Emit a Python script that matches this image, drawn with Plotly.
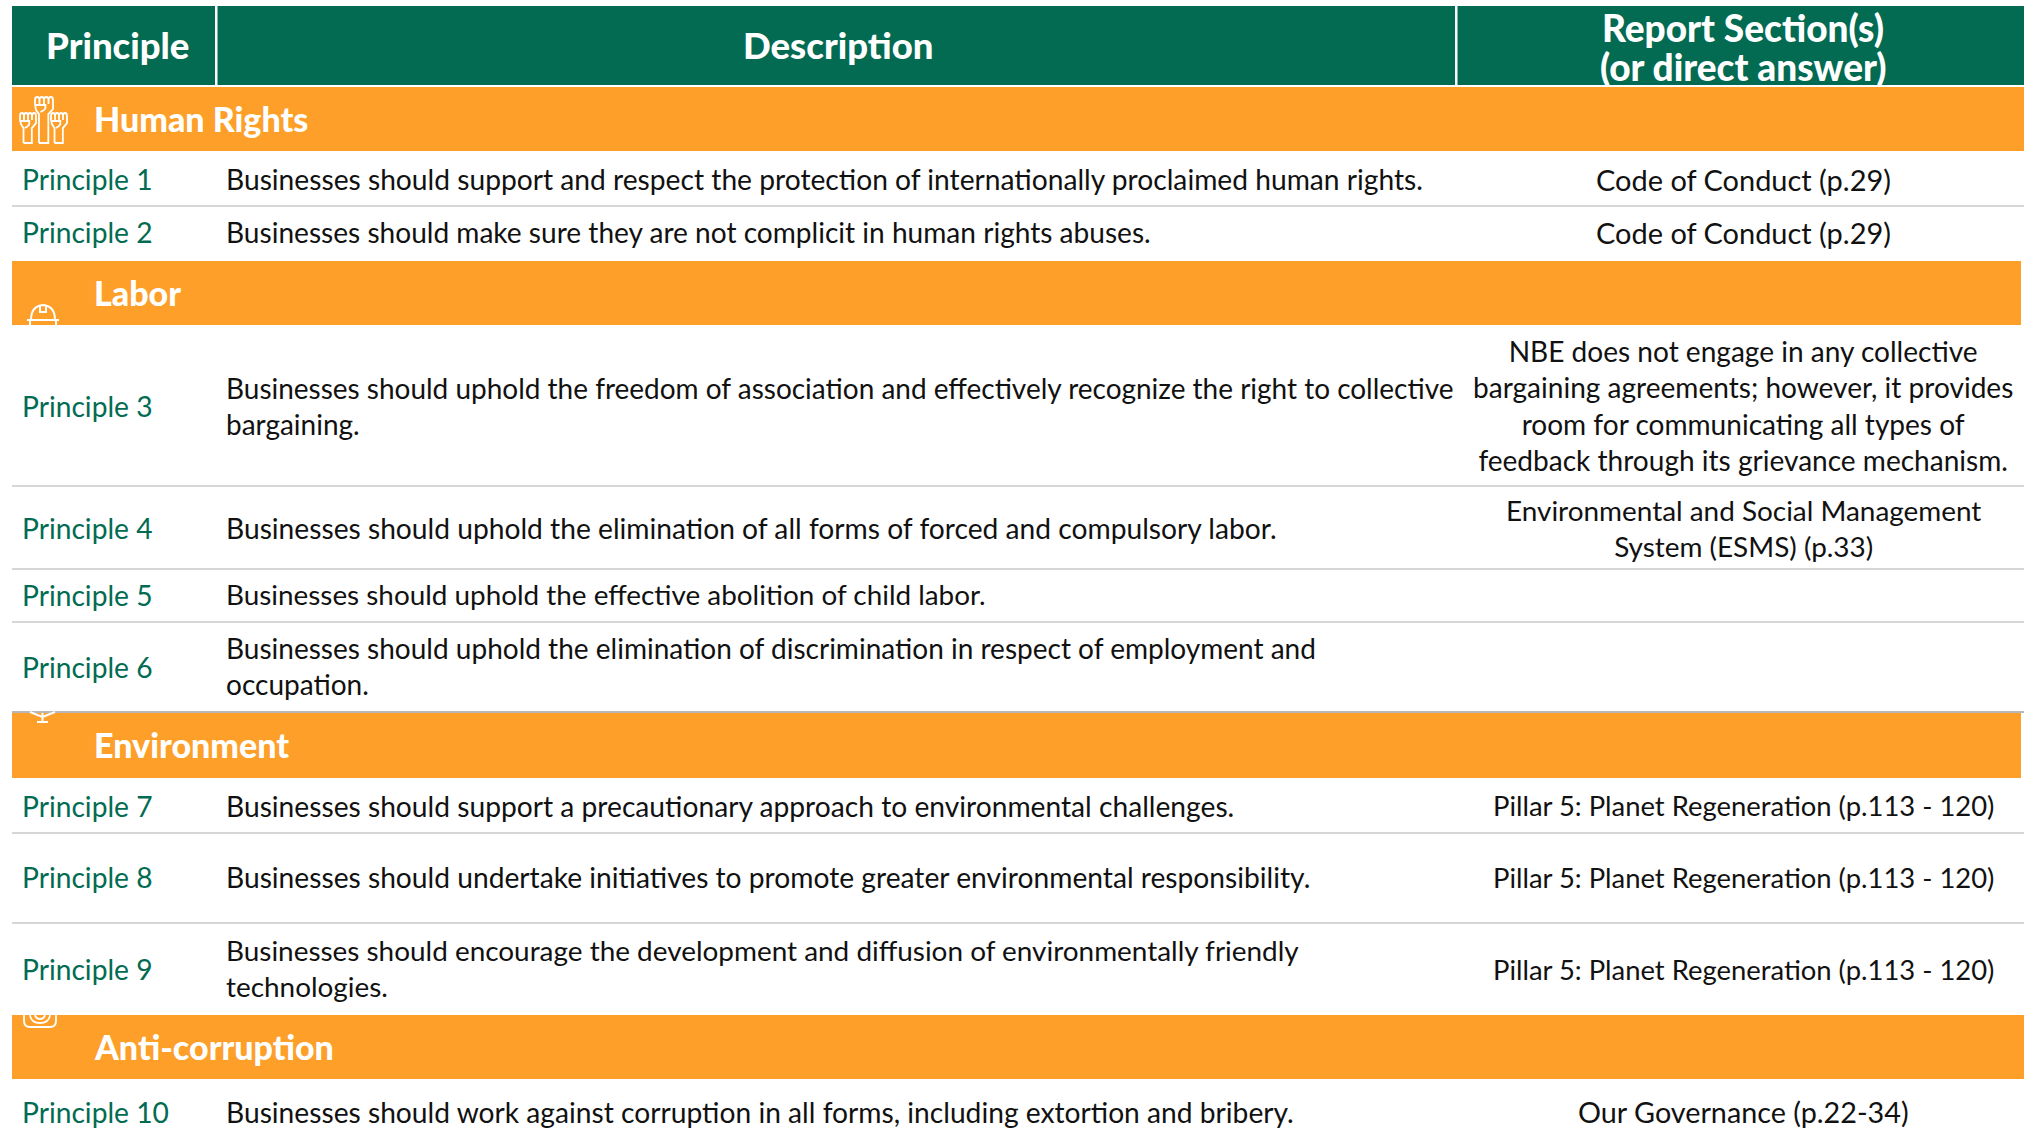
import plotly.graph_objects as go

# ---------- content ----------
header_labels = ["Principle", "Description", "Report Section(s)", "(or direct answer)"]
row_kinds = ["section", "row", "row", "section", "row", "row", "row", "row", "section", "row", "row", "row", "section", "row"]
row_first = ["Human Rights", "Principle 1", "Principle 2", "Labor", "Principle 3", "Principle 4", "Principle 5",
             "Principle 6", "Environment", "Principle 7", "Principle 8", "Principle 9", "Anti-corruption", "Principle 10"]
row_desc = [
    "",
    "Businesses should support and respect the protection of internationally proclaimed human rights.",
    "Businesses should make sure they are not complicit in human rights abuses.",
    "",
    "Businesses should uphold the freedom of association and effectively recognize the right to collective<br>bargaining.",
    "Businesses should uphold the elimination of all forms of forced and compulsory labor.",
    "Businesses should uphold the effective abolition of child labor.",
    "Businesses should uphold the elimination of discrimination in respect of employment and<br>occupation.",
    "",
    "Businesses should support a precautionary approach to environmental challenges.",
    "Businesses should undertake initiatives to promote greater environmental responsibility.",
    "Businesses should encourage the development and diffusion of environmentally friendly<br>technologies.",
    "",
    "Businesses should work against corruption in all forms, including extortion and bribery.",
]
row_report = [
    "",
    "Code of Conduct (p.29)",
    "Code of Conduct (p.29)",
    "",
    "NBE does not engage in any collective<br>bargaining agreements; however, it provides<br>room for communicating all types of<br>feedback through its grievance mechanism.",
    "Environmental and Social Management<br>System (ESMS) (p.33)",
    "",
    "",
    "",
    "Pillar 5: Planet Regeneration (p.113 - 120)",
    "Pillar 5: Planet Regeneration (p.113 - 120)",
    "Pillar 5: Planet Regeneration (p.113 - 120)",
    "",
    "Our Governance (p.22-34)",
]

# ---------- layout of the table (pixels) ----------
W, H = 2029, 1136
LEFT, RIGHT = 12, 2024
COL1, COL2 = 216, 1456
HEAD_TOP, HEAD_BOT = 6, 85
ROW_EDGES = [87, 151, 206, 261, 325, 486, 569, 622, 712, 778, 833, 923, 1015, 1079, 1136]
TEXT_SHIFT = [0, 0.5, -1.5, 0, 0, 0, -1, 0, 0, 0, -1, 0, 0, 4]
DESC_SHIFT = [0, 0, 0, 0, 0, 0, 0, -1, 0, 0, 0, -1, 0, 0]
DESC_SCALE = [1, 1, .996, 1, .992, 1, .988, .994, 1, 1, 1, .99, 1, 1]
REPORT_SCALE = [1, 1.027, 1.027, 1, .995, .99, 1, 1, 1, .972, .972, .972, 1, 1.02]
GREEN, ORANGE = "#026B52", "#FD9F28"
FONT = "Lato"
BODY = 28.2

fig = go.Figure()
fig.update_xaxes(range=[0, W], visible=False, fixedrange=True)
fig.update_yaxes(range=[H, 0], visible=False, fixedrange=True)
fig.update_layout(width=W, height=H, margin=dict(l=0, r=0, t=0, b=0), paper_bgcolor="white",
                  plot_bgcolor="white", showlegend=False)
fig.add_trace(go.Scatter(x=[0, W], y=[0, H], mode="markers", marker=dict(opacity=0), hoverinfo="skip"))


def rect(x0, y0, x1, y1, color):
    fig.add_shape(type="rect", x0=x0, y0=y0, x1=x1, y1=y1, fillcolor=color, line_width=0, layer="below")


def hline(y, color, width=1.5):
    fig.add_shape(type="line", x0=LEFT, x1=RIGHT, y0=y, y1=y, line=dict(color=color, width=width), layer="below")


def label(x, y, text, color="#111111", size=BODY, anchor="left", weight=400):
    if not text:
        return
    fig.add_annotation(x=x, y=y, xref="x", yref="y", text=text, showarrow=False,
                       xanchor=anchor, yanchor="middle", align=anchor,
                       font=dict(family=FONT, size=size, color=color, weight=weight))


def icon(path, width=1.8):
    fig.add_shape(type="path", path=path, line=dict(color="white", width=width), fillcolor="rgba(0,0,0,0)", layer="above")


def fist(x0, top, w, bottom):
    """Outline of a raised fist with its wrist."""
    h = w * 0.95
    fw = w / 4
    wl, wr = x0 + w * 0.22, x0 + w * 0.74
    p = f"M{wl},{bottom} L{wl},{top+h} L{x0+1},{top+h-4} L{x0},{top+7} "
    for i in range(4):
        xa, xb = x0 + i * fw, x0 + (i + 1) * fw
        p += f"L{xa},{top+3} Q{xa},{top} {(xa+xb)/2},{top} Q{xb},{top} {xb},{top+3} L{xb},{top+7} "
    p += f"L{x0+w},{top+h-5} L{wr},{top+h} L{wr},{bottom} L{wl},{bottom} "
    p += f"M{x0+1},{top+8} L{x0+w*.58},{top+8} L{x0+w*.58},{top+11} Q{x0+w*.55},{top+13} {x0+w*.3},{top+15}"
    return p


rect(LEFT, HEAD_TOP, RIGHT, HEAD_BOT, GREEN)
rect(COL1 - 1, HEAD_TOP, COL1 + 1.5, HEAD_BOT, "white")
rect(COL2 - 1, HEAD_TOP, COL2 + 1.5, HEAD_BOT, "white")
label((LEFT + COL1) / 2 + 3, 45, header_labels[0], "white", 36.5, "center", 900)
label((COL1 + COL2) / 2 + 2, 45, header_labels[1], "white", 36.5, "center", 900)
label((COL2 + RIGHT) / 2 + 3, 27, header_labels[2], "white", 37, "center", 900)
label((COL2 + RIGHT) / 2 + 3, 66, header_labels[3], "white", 37, "center", 900)

for i, kind in enumerate(row_kinds):
    y0, y1 = ROW_EDGES[i], ROW_EDGES[i + 1]
    mid = (y0 + y1) / 2 + TEXT_SHIFT[i]
    if kind == "section":
        rect(LEFT, y0, RIGHT if i == 0 or i == 12 else 2021, y1, ORANGE)
        label(92, mid - 1, row_first[i], "white", 34, "left", 900)
    else:
        label(20, mid, row_first[i], GREEN, BODY)
        label(224, mid + DESC_SHIFT[i], row_desc[i], "#111111", BODY * DESC_SCALE[i])
        label((COL2 + RIGHT) / 2 + 3, mid, row_report[i], "#111111", BODY * REPORT_SCALE[i], "center")
        if i + 1 < len(row_kinds) and row_kinds[i + 1] == "row":
            hline(y1, "#C9C9C9", 1.5)
hline(712, "#B8B8B8", 2)

# icons
icon(fist(35, 97, 18, 143))
icon(fist(20, 113, 16, 143))
icon(fist(51, 113, 16, 143))
icon("M31,320 Q31,306 43,305 Q55,306 55,320 M27,320 L59,320 M30,320 L30,325 M56,320 L56,325 "
     "M40,306 L40,312 L46,312 L46,306", 2)
icon("M37,722 L48,722 M42.5,722 L42.5,713 M42.5,717 L30,712 M42.5,717 L55,712", 2)
icon("M24,1015 L24,1021 Q24,1027 30,1027 L50,1027 Q56,1027 56,1021 L56,1015 "
     "M30,1015 Q31,1023 40,1023 Q49,1023 50,1015 M35,1015 Q36,1019 40,1019 Q44,1019 45,1015")

fig.write_html("out.html", config=dict(displayModeBar=False),
               post_script="document.body.style.margin='0';document.body.style.overflow='hidden';")
